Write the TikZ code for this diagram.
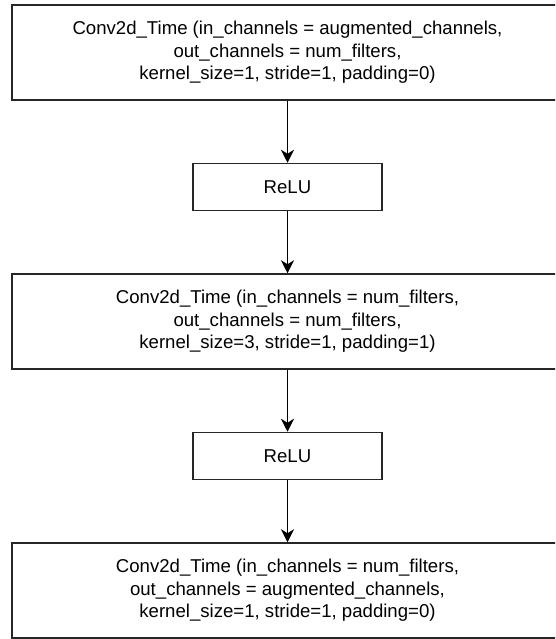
\documentclass[tikz,border=0pt]{standalone}
\usepackage{fontspec}
\setmainfont{Liberation Sans}
\usetikzlibrary{positioning,arrows.meta}

\begin{document}
\begin{tikzpicture}[x=1pt,y=-1pt,font=\fontsize{18.6}{22.5}\selectfont,
  >={Stealth[length=13pt,width=13pt,inset=4pt]},node distance=62pt,
  conv/.style={draw=black!85,line width=1.5pt,minimum width=551pt,minimum height=95pt,
               inner sep=0pt,align=center},
  act/.style={draw=black!85,line width=1.5pt,minimum width=189pt,minimum height=47pt,
              inner sep=0pt,align=center}]
  \clip (0,0) rectangle (555,639);

  % ---------- layer stack ----------
  \node[conv] (conva) at (287.5,52.5) {Conv2d\_Time (in\_channels = augmented\_channels,\\out\_channels = num\_filters,\\kernel\_size=1, stride=1, padding=0)};
  \node[act,below=of conva] (relua) {ReLU};
  \node[conv,below=of relua] (convb) {Conv2d\_Time (in\_channels = num\_filters,\\out\_channels = num\_filters,\\kernel\_size=3, stride=1, padding=1)};
  \node[act,below=of convb] (relub) {ReLU};
  \node[conv,below=of relub] (convc) {Conv2d\_Time (in\_channels = num\_filters,\\out\_channels = augmented\_channels,\\kernel\_size=1, stride=1, padding=0)};
  \draw[->,line width=1.5pt] (conva)--(relua); \draw[->,line width=1.5pt] (relua)--(convb);
  \draw[->,line width=1.5pt] (convb)--(relub); \draw[->,line width=1.5pt] (relub)--(convc);
\end{tikzpicture}
\end{document}
